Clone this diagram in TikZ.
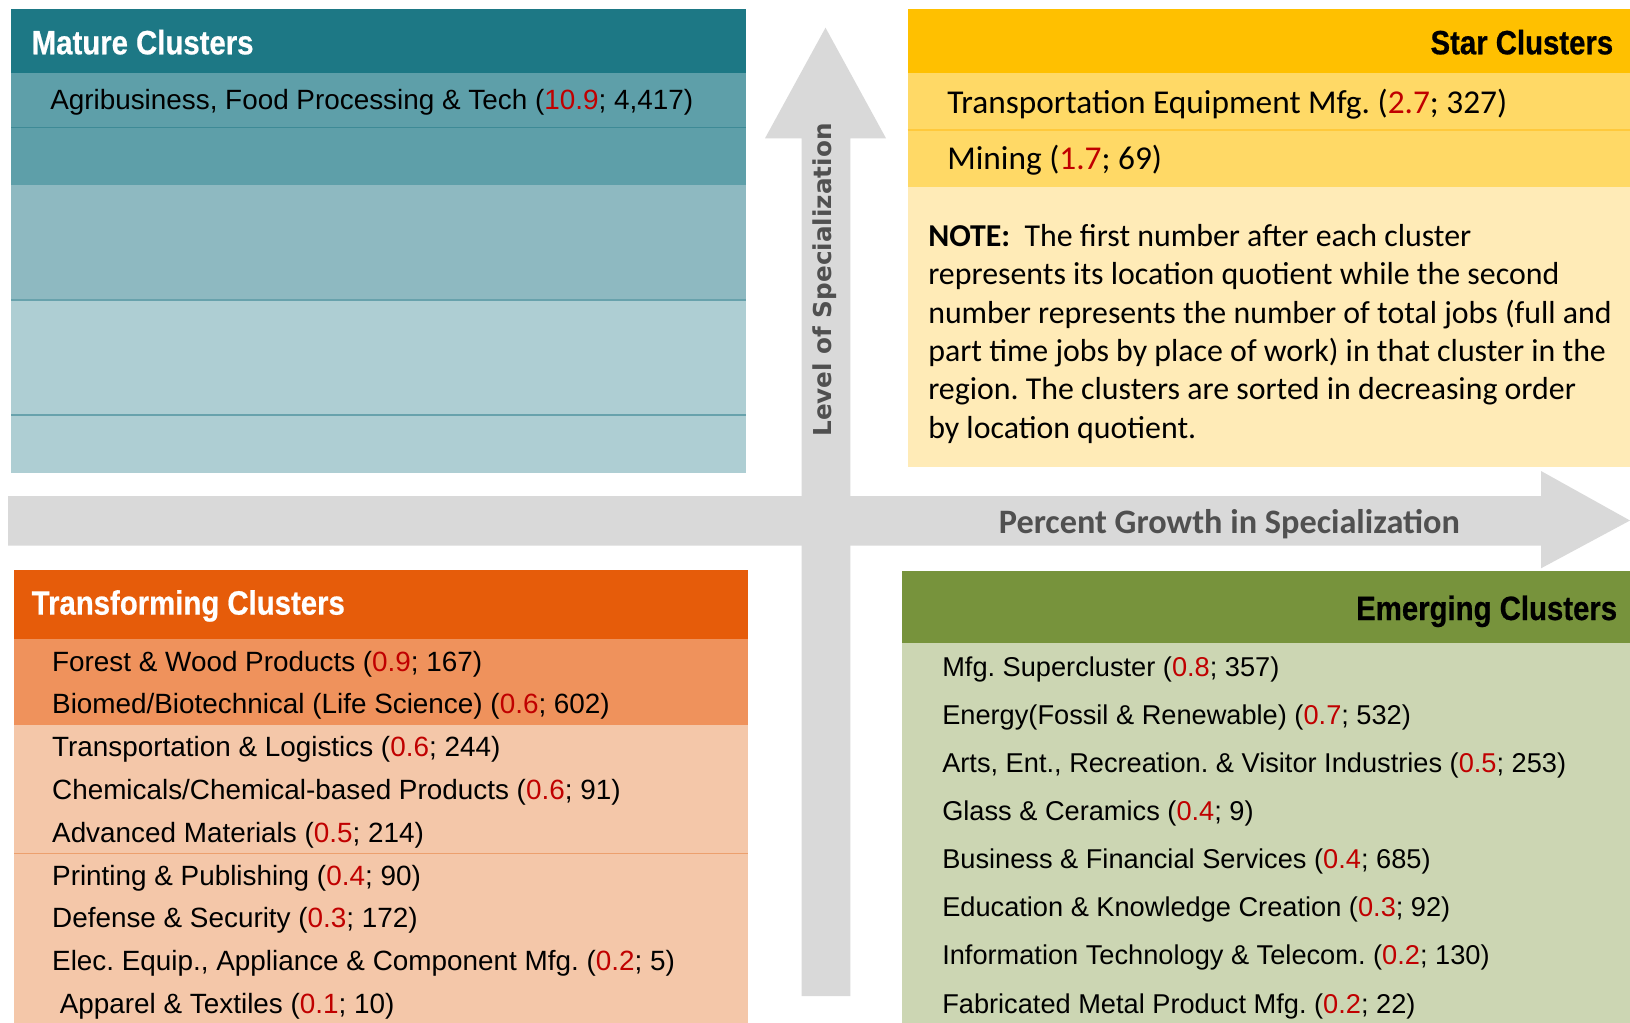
\documentclass[tikz,border=0pt]{standalone}
\usepackage{fontspec}
\setmainfont{Liberation Sans}
\newfontfamily\carl{Carlito}
\newfontfamily\ttlfont[FakeStretch=0.87,FakeBold=0.6]{Liberation Sans}
\newfontfamily\dvs{DejaVu Sans}
\definecolor{mhead}{RGB}{29,120,133}
\definecolor{mrowa}{RGB}{94,159,169}
\definecolor{mrowb}{RGB}{142,185,193}
\definecolor{mrowc}{RGB}{174,206,211}
\definecolor{mline}{RGB}{62,138,150}
\definecolor{mlineb}{RGB}{104,162,172}
\definecolor{shead}{RGB}{255,192,0}
\definecolor{srow}{RGB}{255,217,102}
\definecolor{sline}{RGB}{255,201,60}
\definecolor{snote}{RGB}{255,235,183}
\definecolor{thead}{RGB}{230,92,10}
\definecolor{tdark}{RGB}{239,146,92}
\definecolor{tlight}{RGB}{244,199,169}
\definecolor{tline}{RGB}{236,160,110}
\definecolor{ehead}{RGB}{119,147,60}
\definecolor{ebody}{RGB}{204,214,179}
\definecolor{arrowgray}{RGB}{217,217,217}
\definecolor{axisgray}{RGB}{80,80,80}
\definecolor{numred}{RGB}{192,0,0}
\newcommand{\redn}[1]{\textcolor{numred}{#1}}
\frenchspacing
\begin{document}
\begin{tikzpicture}[x=0.75pt,y=-0.75pt,
  title/.style={inner sep=0pt, font=\ttlfont\bfseries\fontsize{25.3}{28}\selectfont},
  mitem/.style={anchor=base west, inner sep=0pt, font=\fontsize{20.9}{24}\selectfont},
  titem/.style={anchor=base west, inner sep=0pt, font=\fontsize{20.9}{24}\selectfont},
  eitem/.style={anchor=base west, inner sep=0pt, font=\fontsize{20.4}{24}\selectfont},
  sitem/.style={anchor=base west, inner sep=0pt, font=\carl\fontsize{25}{28}\selectfont},
  noteline/.style={anchor=base west, inner sep=0pt, font=\carl\fontsize{23.9}{28}\selectfont}]
\fill[white] (0,0) rectangle (1630,1023);
\useasboundingbox (0,0) rectangle (1630,1023);
% axes arrows
\fill[arrowgray] (8,496) -- (1541,496) -- (1541,471) -- (1630,520.5) -- (1541,568.3) -- (1541,545.7) -- (8,545.7) -- cycle;
\fill[arrowgray] (801.7,996) -- (801.7,138.3) -- (765,138.3) -- (825.5,27.7) -- (886,138.3) -- (850.3,138.3) -- (850.3,996) -- cycle;
% Mature box
\fill[mhead] (11,9) rectangle (745.7,72.7);
\fill[mrowa] (11,72.7) rectangle (745.7,185);
\fill[mrowb] (11,185) rectangle (745.7,300);
\fill[mrowc] (11,300) rectangle (745.7,472.7);
\draw[mline, line width=1pt] (11,127.3) -- (745.7,127.3);
\draw[mlineb, line width=1pt] (11,300) -- (745.7,300);
\draw[mlineb, line width=1pt] (11,415) -- (745.7,415);
% Star box
\fill[shead] (907.7,9) rectangle (1630,72.7);
\fill[srow] (907.7,72.7) rectangle (1630,187.3);
\draw[sline, line width=1pt] (907.7,130) -- (1630,130);
\fill[snote] (907.7,187.3) rectangle (1630,466.7);
% Transforming box
\fill[thead] (14,570.2) rectangle (748,638.6);
\fill[tdark] (14,638.6) rectangle (748,724.7);
\fill[tlight] (14,724.7) rectangle (748,1023);
\draw[tline, line width=1pt] (14,853.3) -- (748,853.3);
% Emerging box
\fill[ehead] (902,571) rectangle (1630,642.5);
\fill[ebody] (902,642.5) rectangle (1630,1023);
% axis labels
\node[rotate=90, inner sep=0pt, font=\dvs\bfseries\fontsize{18.5}{20}\selectfont, text=axisgray] (lvl) at (825,280) {Level of Specialization};
\node[anchor=base west, inner sep=0pt, font=\carl\bfseries\fontsize{25.7}{28}\selectfont, text=axisgray] (pct) at (998.6,533.5) {Percent Growth in Specialization};
% titles
\node[title, anchor=base west, text=white] (mt) at (31.5,54.3) {Mature Clusters};
\node[title, anchor=base east, text=black] (st) at (1613.5,54.3) {Star Clusters};
\node[title, anchor=base west, text=white] (tt) at (31.5,614.6) {Transforming Clusters};
\node[title, anchor=base east, text=black] (et) at (1617.4,620) {Emerging Clusters};
% Mature items
\node[mitem] (m1) at (50,110) {Agribusiness, Food Processing \& Tech (\redn{10.9}; 4,417)};
% Star items
\node[sitem] (s1) at (947,113.3) {Transportation Equipment Mfg. (\redn{2.7}; 327)};
\node[sitem] (s2) at (947,170) {Mining (\redn{1.7}; 69)};
% Note
\node[noteline] (n1) at (928,246.5) {\textbf{NOTE:}\ \ The first number after each cluster};
\node[noteline] (n2) at (928,284.85) {represents its location quotient while the second};
\node[noteline] (n3) at (928,323.2) {number represents the number of total jobs (full and};
\node[noteline] (n4) at (928,361.55) {part time jobs by place of work) in that cluster in the};
\node[noteline] (n5) at (928,399.9) {region. The clusters are sorted in decreasing order};
\node[noteline] (n6) at (928,438.25) {by location quotient.};
% Transforming items
\node[titem] (t1) at (51.9,671) {Forest \& Wood Products (\redn{0.9}; 167)};
\node[titem] (t2) at (51.9,713.8) {Biomed/Biotechnical (Life Science) (\redn{0.6}; 602)};
\node[titem] (t3) at (51.9,756.6) {Transportation \& Logistics (\redn{0.6}; 244)};
\node[titem] (t4) at (51.9,799.4) {Chemicals/Chemical-based Products (\redn{0.6}; 91)};
\node[titem] (t5) at (51.9,842.2) {Advanced Materials (\redn{0.5}; 214)};
\node[titem] (t6) at (51.9,885) {Printing \& Publishing (\redn{0.4}; 90)};
\node[titem] (t7) at (51.9,927.8) {Defense \& Security (\redn{0.3}; 172)};
\node[titem] (t8) at (51.9,970.6) {Elec. Equip., Appliance \& Component Mfg. (\redn{0.2}; 5)};
\node[titem] (t9) at (59.6,1013.4) {Apparel \& Textiles (\redn{0.1}; 10)};
% Emerging items
\node[eitem] (e1) at (942,676.3) {Mfg. Supercluster (\redn{0.8}; 357)};
\node[eitem] (e2) at (942,724.4) {Energy(Fossil \& Renewable) (\redn{0.7}; 532)};
\node[eitem] (e3) at (942,772.5) {Arts, Ent., Recreation. \& Visitor Industries (\redn{0.5}; 253)};
\node[eitem] (e4) at (942,820.6) {Glass \& Ceramics (\redn{0.4}; 9)};
\node[eitem] (e5) at (942,868.7) {Business \& Financial Services (\redn{0.4}; 685)};
\node[eitem] (e6) at (942,916.8) {Education \& Knowledge Creation (\redn{0.3}; 92)};
\node[eitem] (e7) at (942,964.9) {Information Technology \& Telecom. (\redn{0.2}; 130)};
\node[eitem] (e8) at (942,1013) {Fabricated Metal Product Mfg. (\redn{0.2}; 22)};
\end{tikzpicture}
\end{document}
